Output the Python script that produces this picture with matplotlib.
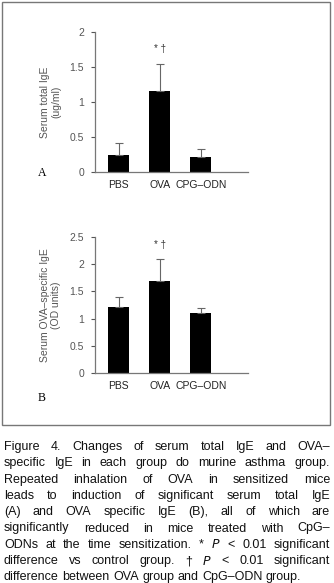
import matplotlib
matplotlib.use("Agg")
import matplotlib.pyplot as plt
from matplotlib.patches import Rectangle

# ---- data ----
groups = ["PBS", "OVA", "CPG\u2013ODN"]
total_ige = [0.24, 1.16, 0.22]
total_ige_err = [0.17, 0.39, 0.11]
ova_ige = [1.21, 1.70, 1.10]
ova_ige_err = [0.18, 0.39, 0.10]
sig_marks = ["", "* \u2020", ""]

caption_lines = [
    "Figure 4. Changes of serum total IgE and OVA\u2013",
    "specific IgE in each group do murine asthma group.",
    "Repeated inhalation of OVA in sensitized mice",
    "leads to induction of significant serum total IgE",
    "(A) and OVA specific IgE (B), all of which are",
    "significantly reduced in mice treated with CpG\u2013",
    "ODNs at the time sensitization. * $P$ < 0.01 significant",
    "difference vs control group. \u2020 $P$ < 0.01 significant",
    "difference between OVA group and CpG\u2013ODN group.",
]

plt.rcParams["font.family"] = ["Liberation Sans", "DejaVu Sans"]
W, H = 334, 583
fig = plt.figure(figsize=(W / 100, H / 100), dpi=100)

# outer frame round the two panels
fig.patches.append(Rectangle((1.5 / W, 1 - 425 / H), 328.5 / W, 423 / H,
                             transform=fig.transFigure, fill=False,
                             edgecolor="#777777", linewidth=1.0))

_GREY = "#555555"


def bar_panel(rect, vals, errs, ymax, yticks, ylabel, letter, letter_y):
    ax = fig.add_axes(rect)
    x = range(len(groups))
    ax.bar(x, vals, width=0.52, color="black", zorder=2)
    ax.errorbar(x, vals, yerr=[[0] * len(errs), errs], fmt="none",
                ecolor="#666666", elinewidth=0.8, capsize=3, capthick=0.8)
    for xi, v, e, m in zip(x, vals, errs, sig_marks):
        if m:
            ax.text(xi, v + e + ymax * 0.07, m, ha="center", va="bottom",
                    fontsize=7, color="#333333")
    ax.set_xlim(-0.58, 3.15)
    ax.set_ylim(0, ymax)
    ax.set_yticks(yticks)
    ax.set_yticklabels([f"{t:g}" for t in yticks])
    ax.set_xticks(list(x))
    ax.set_xticklabels(groups)
    ax.tick_params(axis="x", length=0, pad=6, labelsize=7.5, colors="#222222")
    ax.tick_params(axis="y", length=3, width=0.8, pad=5, labelsize=7.5,
                   colors=_GREY, direction="out")
    for s in ("top", "right"):
        ax.spines[s].set_visible(False)
    for s in ("left", "bottom"):
        ax.spines[s].set_color("#777777")
        ax.spines[s].set_linewidth(0.9)
    ax.set_ylabel(ylabel, fontsize=7.5, color=_GREY, linespacing=1.1, labelpad=6)
    fig.text(38 / W, 1 - letter_y / H, letter, family="Liberation Serif",
             fontsize=8.5, ha="left", va="center")
    return ax


bar_panel([95 / W, 1 - 172 / H, 153 / W, 140 / H], total_ige, total_ige_err,
          2, [0, 0.5, 1, 1.5, 2], "Serum total IgE\n(ug/ml)", "A", 173)
bar_panel([95 / W, 1 - 373 / H, 153 / W, 136 / H], ova_ige, ova_ige_err,
          2.5, [0, 0.5, 1, 1.5, 2, 2.5], "Serum OVA\u2013specific IgE\n(OD units)",
          "B", 398)

# ---- justified caption ----
renderer = fig.canvas.get_renderer()
x0, x1 = 4 / W, 330 / W
for i, line in enumerate(caption_lines):
    y = 1 - (447 + 16.3 * i) / H
    words = line.split(" ")
    objs = [fig.text(0, y, w, fontsize=9, color="#111111", va="center")
            for w in words]
    widths = [o.get_window_extent(renderer).width / W for o in objs]
    if i == len(caption_lines) - 1:
        gap = fig.text(0, 0, "a a", fontsize=9).get_window_extent(renderer).width
        gap2 = fig.text(0, 0, "aa", fontsize=9).get_window_extent(renderer).width
        gap = (gap - gap2) / W
        for t in fig.texts[-2:]:
            t.remove()
    else:
        gap = (x1 - x0 - sum(widths)) / (len(words) - 1)
    xp = x0
    for o, w in zip(objs, widths):
        o.set_x(xp)
        xp += w + gap

fig.savefig("out.png", dpi=100)
